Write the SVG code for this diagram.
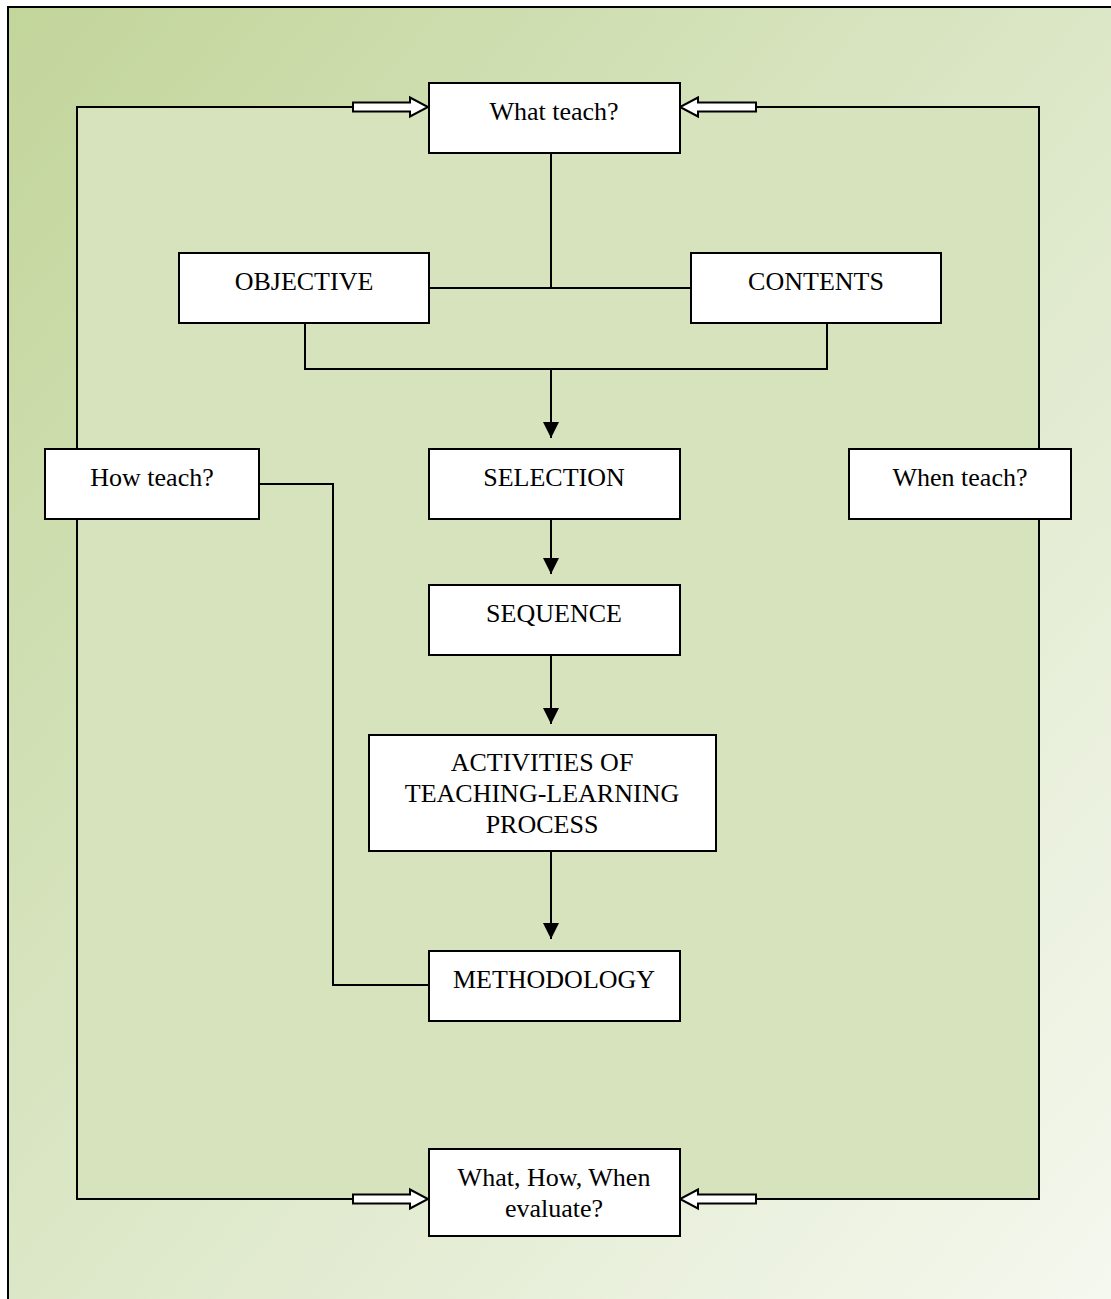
<svg xmlns="http://www.w3.org/2000/svg" width="1111" height="1299" viewBox="0 0 1111 1299">
<defs>
<linearGradient id="bg" x1="0" y1="0" x2="1" y2="1">
<stop offset="0" stop-color="#c2d59a"/>
<stop offset="0.5" stop-color="#dce7c7"/>
<stop offset="1" stop-color="#f5f8ef"/>
</linearGradient>
<marker id="ah" viewBox="0 0 16 16" markerWidth="16" markerHeight="16" refX="16" refY="8" orient="auto" markerUnits="userSpaceOnUse">
<path d="M0,0 L16,8 L0,16 Z" fill="#000"/>
</marker>
<style>
.box{fill:#fff;stroke:#000;stroke-width:2}
.t{font-family:"Liberation Serif","Times New Roman",serif;font-size:26px;fill:#000;text-anchor:middle}
.ln{fill:none;stroke:#000;stroke-width:2}
.ha{fill:#fff;stroke:#000;stroke-width:2;stroke-linejoin:miter}
</style>
</defs>
<rect x="0" y="0" width="1111" height="1299" fill="#fff"/>
<rect x="8" y="7" width="1110" height="1300" fill="url(#bg)" stroke="#000" stroke-width="2"/>
<rect x="77" y="106" width="962" height="1093" fill="#d7e3bd"/>
<g id="connectors">
<path class="ln" d="M353,107 H77 V1199 H353"/>
<path class="ln" d="M756,107 H1039 V1199 H756"/>
<path class="ln" d="M551,153 V288"/>
<path class="ln" d="M429,288 H691"/>
<path class="ln" d="M305,323 V369 H827 V323"/>
<path class="ln" d="M551,369 V438" marker-end="url(#ah)"/>
<path class="ln" d="M551,519 V574" marker-end="url(#ah)"/>
<path class="ln" d="M551,655 V724" marker-end="url(#ah)"/>
<path class="ln" d="M551,851 V939" marker-end="url(#ah)"/>
<path class="ln" d="M259,484 H333 V985 H429"/>
<path class="ha" d="M353,102.5 H410 V97.5 L428,107 L410,116.5 V111.5 H353 Z"/>
<path class="ha" d="M756,102.5 H698 V97.5 L680,107 L698,116.5 V111.5 H756 Z"/>
<path class="ha" d="M353,1194.5 H410 V1189.5 L428,1199 L410,1208.5 V1203.5 H353 Z"/>
<path class="ha" d="M756,1194.5 H698 V1189.5 L680,1199 L698,1208.5 V1203.5 H756 Z"/>
</g>
<g id="what-teach"><rect class="box" x="429" y="83" width="251" height="70"/><text class="t" x="554" y="120">What teach?</text></g>
<g id="objective"><rect class="box" x="179" y="253" width="250" height="70"/><text class="t" x="304" y="290">OBJECTIVE</text></g>
<g id="contents"><rect class="box" x="691" y="253" width="250" height="70"/><text class="t" x="816" y="290">CONTENTS</text></g>
<g id="how-teach"><rect class="box" x="45" y="449" width="214" height="70"/><text class="t" x="152" y="486">How teach?</text></g>
<g id="selection"><rect class="box" x="429" y="449" width="251" height="70"/><text class="t" x="554" y="486">SELECTION</text></g>
<g id="when-teach"><rect class="box" x="849" y="449" width="222" height="70"/><text class="t" x="960" y="486">When teach?</text></g>
<g id="sequence"><rect class="box" x="429" y="585" width="251" height="70"/><text class="t" x="554" y="622">SEQUENCE</text></g>
<g id="activities"><rect class="box" x="369" y="735" width="347" height="116"/><text class="t" x="542" y="771">ACTIVITIES OF</text><text class="t" x="542" y="802">TEACHING-LEARNING</text><text class="t" x="542" y="833">PROCESS</text></g>
<g id="methodology"><rect class="box" x="429" y="951" width="251" height="70"/><text class="t" x="554" y="988">METHODOLOGY</text></g>
<g id="evaluate"><rect class="box" x="429" y="1149" width="251" height="87"/><text class="t" x="554" y="1186">What, How, When</text><text class="t" x="554" y="1217">evaluate?</text></g>
</svg>
